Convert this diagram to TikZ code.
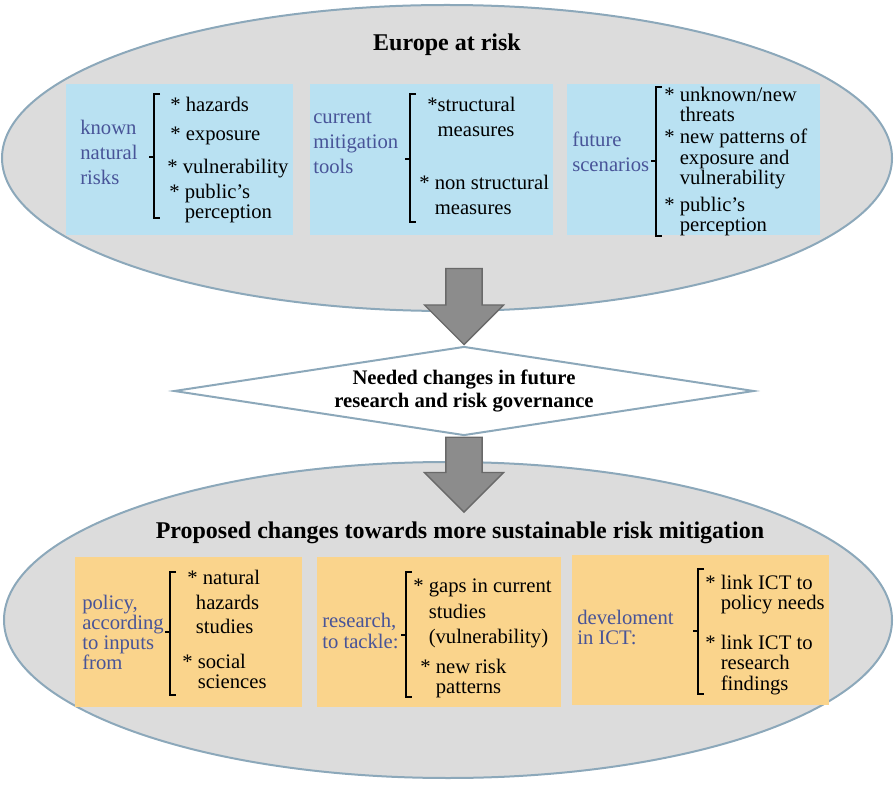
\documentclass[tikz,border=0pt]{standalone}
\usepackage{fontspec}
\setmainfont{Liberation Serif}
\usetikzlibrary{shapes.geometric,shapes.arrows}

\definecolor{ovalfill}{RGB}{220,220,220}
\definecolor{ovalline}{RGB}{140,168,186}
\definecolor{skyfill}{RGB}{185,225,242}
\definecolor{sandfill}{RGB}{250,212,140}
\definecolor{labelblue}{RGB}{72,84,152}
\definecolor{arrowfill}{RGB}{140,140,140}
\definecolor{arrowline}{RGB}{105,105,105}

\newcommand{\hg}{\phantom{* }}

\begin{document}
\begin{tikzpicture}[
  x=0.75pt, y=-0.75pt,
  oval/.style={ellipse, draw=ovalline, line width=1.5pt, fill=ovalfill, inner sep=0pt},
  panel/.style={rectangle, inner sep=0pt, anchor=north west},
  title/.style={font=\fontsize{18}{21}\selectfont\bfseries, inner sep=0pt},
  itm/.style={font=\fontsize{15.5}{15.25}\selectfont, align=left, inner sep=0pt, anchor=north west},
  wideitm/.style={itm, font=\fontsize{15.5}{19}\selectfont},
  lbl/.style={font=\fontsize{15.5}{18.75}\selectfont, text=labelblue, align=left, inner sep=0pt, anchor=north west},
  lowlbl/.style={lbl, font=\fontsize{15.5}{15}\selectfont},
  bigarrow/.style={single arrow, rotate=-90, draw=arrowline, fill=arrowfill, line width=1pt,
    inner xsep=0pt, inner ysep=13.1pt, single arrow head extend=16.1pt},
  bracket/.style={draw, line width=0.8pt}
]
  \useasboundingbox (0,0) rectangle (895,787);

  % the two ovals and the decision diamond
  \node[oval, minimum width=667.5pt, minimum height=229.5pt] (europe) at (447,158) {};
  \node[oval, minimum width=666pt, minimum height=237pt] (proposed) at (448,620) {};
  \node[diamond, draw=ovalline, line width=1.5pt, fill=white, inner sep=0pt, aspect=6.5,
    minimum width=435pt, minimum height=66.75pt, align=center,
    font=\fontsize{15.5}{17.5}\selectfont\bfseries] (needs) at (464,391)
    {Needed changes in future\\research and risk governance};

  \node[bigarrow, minimum height=57pt, anchor=tip] (down1) at (needs.north) {};
  \node[bigarrow, minimum height=56.25pt, anchor=tail] (down2) at (needs.south) {};

  \node[title] (toptitle) at (447,45) {Europe at risk};
  \node[title] (bottitle) at (460,533) {Proposed changes towards more sustainable risk mitigation};

  % blue panels
  \node[panel, fill=skyfill, minimum width=170.25pt, minimum height=113.25pt] (known) at (66,84) {};
  \node[panel, fill=skyfill, minimum width=182.25pt, minimum height=113.25pt] (tools) at (310,84) {};
  \node[panel, fill=skyfill, minimum width=189.75pt, minimum height=113.25pt] (future) at (567,84) {};

  % orange panels
  \node[panel, fill=sandfill, minimum width=170.25pt, minimum height=112.5pt] (policy) at (75,557) {};
  \node[panel, fill=sandfill, minimum width=183pt, minimum height=112.5pt] (research) at (317,557) {};
  \node[panel, fill=sandfill, minimum width=192.75pt, minimum height=112.5pt] (ict) at (572,555) {};

  % brackets
  \foreach \bx/\bt/\bb/\bm in {154/94/218/157, 410/94/222/159, 656/87/236/161,
                               170/572/695/632, 406/572/697/635, 698/569/694/631}
    \draw[bracket] (\bx+6,\bt) -- (\bx,\bt) -- (\bx,\bb) -- (\bx+6,\bb)
                   (\bx-5,\bm) -- (\bx,\bm);

  % known natural risks
  \node[lbl] (knownlbl) at (80,120) {known\\natural\\risks};
  \node[itm] (kn1) at (170,97) {* hazards};
  \node[itm] (kn2) at (170,127) {* exposure};
  \node[itm] (kn3) at (167,159) {* vulnerability};
  \node[itm] (kn4) at (169,184) {* public’s\\\hg perception};

  % current mitigation tools
  \node[lbl] (toolslbl) at (313,112) {current\\mitigation\\tools};
  \node[wideitm] (mt1) at (427,97) {*structural\\\phantom{*}measures};
  \node[wideitm] (mt2) at (419,175) {* non structural\\\hg measures};

  % future scenarios
  \node[lbl] (futurelbl) at (572,132) {future\\scenarios};
  \node[itm] (fs1) at (664,87) {* unknown/new\\\hg threats};
  \node[itm] (fs2) at (664,129) {* new patterns of\\\hg exposure and\\\hg vulnerability};
  \node[itm] (fs3) at (664,197) {* public’s\\\hg perception};

  % policy
  \node[lowlbl] (policylbl) at (82,595) {policy,\\according\\to inputs\\from};
  \node[wideitm, font=\fontsize{15.5}{18.4}\selectfont] (po1) at (187,570) {* natural\\\hspace{6.5pt}hazards\\\hspace{6.5pt}studies};
  \node[itm] (po2) at (182,654) {* social\\\hg sciences};

  % research
  \node[lowlbl, font=\fontsize{15.5}{15.75}\selectfont] (researchlbl) at (322,613) {research,\\to tackle:};
  \node[wideitm] (re1) at (413,579) {* gaps in current\\\hg studies\\\hg (vulnerability)};
  \node[itm] (re2) at (420,659) {* new risk\\\hg patterns};

  % ICT
  \node[lowlbl] (ictlbl) at (577,610) {develoment\\in ICT:};
  \node[itm] (ict1) at (705,575) {* link ICT to\\\hg policy needs};
  \node[itm] (ict2) at (705,635) {* link ICT to\\\hg research\\\hg findings};
\end{tikzpicture}
\end{document}
